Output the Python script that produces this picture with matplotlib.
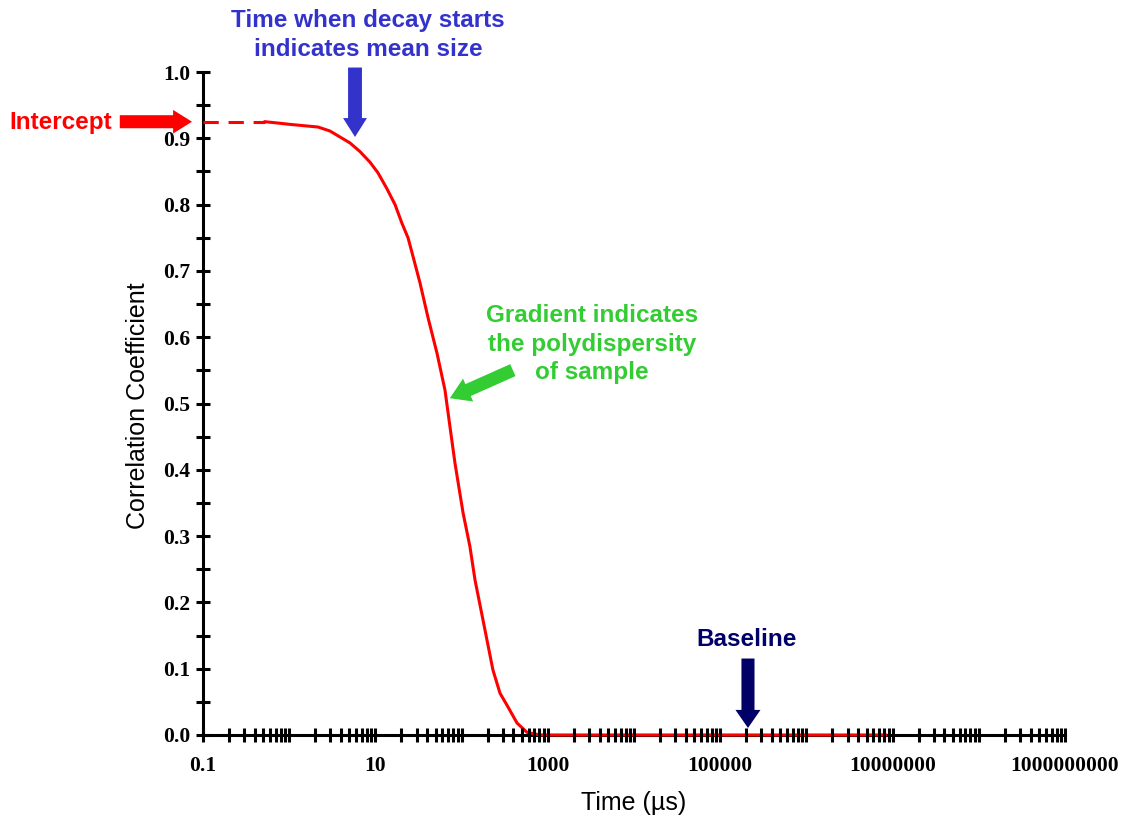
import numpy as np
import matplotlib
matplotlib.use("Agg")
import matplotlib.pyplot as plt
from matplotlib.ticker import FixedLocator, FixedFormatter, LogLocator, MultipleLocator, NullFormatter

# correlogram
intercept_t = [0.1, 0.524]
intercept_val = [0.925, 0.925]

time_us = [0.524, 0.741, 1.02, 1.485, 2.16, 2.97, 3.88, 5.07, 6.62, 8.65, 10.7, 13.6,
           16.9, 20.3, 23.9, 27.3, 32.9, 40.7, 51.8, 64.2, 73.3, 83.8, 104, 125,
           143, 187, 231, 279, 336, 440, 574, 813, 8.3e6]
corr = [0.925, 0.923, 0.921, 0.919, 0.917, 0.911, 0.902, 0.893, 0.880, 0.864, 0.848, 0.824,
        0.800, 0.772, 0.750, 0.722, 0.682, 0.630, 0.576, 0.520, 0.465, 0.410, 0.335, 0.284,
        0.234, 0.158, 0.098, 0.063, 0.045, 0.018, 0.004, 0.0, 0.0]

decades = [10.0 ** k for k in range(-1, 10)]
decade_labels = ["0.1", "", "10", "", "1000", "", "100000", "", "10000000", "", "1000000000"]
y_ticks = [i / 10 for i in range(11)]

RED = "#FF0000"
BLUE = "#3333CC"
GREEN = "#33CC33"
NAVY = "#000066"

fig = plt.figure(figsize=(11.35, 8.19), dpi=100)
ax = fig.add_axes([203 / 1135, 1 - 735 / 819, 862 / 1135, 663 / 819])

ax.plot(intercept_t, intercept_val, color=RED, lw=2.2, ls=(0, (5, 3.2)), clip_on=False, zorder=2.4)
ax.plot(time_us, corr, color=RED, lw=2.2, clip_on=False, zorder=2.4, solid_joinstyle="round")

ax.set_xscale("log")
ax.set_xlim(0.1, 1e9)
ax.set_ylim(0, 1.0)

ax.xaxis.set_major_locator(FixedLocator(decades))
ax.xaxis.set_major_formatter(FixedFormatter(decade_labels))
ax.xaxis.set_minor_locator(LogLocator(base=10, subs=np.arange(2, 10), numticks=20))
ax.xaxis.set_minor_formatter(NullFormatter())
ax.yaxis.set_major_locator(FixedLocator(y_ticks))
ax.yaxis.set_major_formatter(FixedFormatter(["%.1f" % v for v in y_ticks]))
ax.yaxis.set_minor_locator(MultipleLocator(0.05))

for s in ["top", "right"]:
    ax.spines[s].set_visible(False)
for s in ["left", "bottom"]:
    ax.spines[s].set_linewidth(2.2)
    ax.spines[s].set_zorder(2)
ax.xaxis.set_zorder(3)
ax.yaxis.set_zorder(3)

ax.tick_params(which="both", direction="inout", length=10, width=2.2, color="black")
ax.tick_params(axis="x", which="major", pad=10)
ax.tick_params(axis="y", which="major", pad=4)
for lab in ax.get_xticklabels() + ax.get_yticklabels():
    lab.set_fontfamily("Liberation Serif")
    lab.set_fontweight("bold")
    lab.set_fontsize(15.5)

ax.set_xlabel("Time (µs)", fontsize=18, family="Liberation Sans", va="center")
ax.set_ylabel("Correlation Coefficient", fontsize=18, family="Liberation Sans", va="center")
ax.xaxis.set_label_coords(0.5, -0.103)
ax.yaxis.set_label_coords(-0.0754, 0.496)

ms = 20
def arrow(xy, offset, color, xycoords="data", tw=0.47, hw=0.85, hl=0.68):
    ax.annotate("", xy=xy, xycoords=xycoords, xytext=offset, textcoords="offset points",
                annotation_clip=False,
                arrowprops=dict(arrowstyle="simple,head_length=%g,head_width=%g,tail_width=%g" % (hl, hw, tw),
                                color=color, shrinkA=0, shrinkB=0, mutation_scale=ms, lw=0))

# annotations
arrow((-11 / 862, 0.925), (-52, 0), RED, xycoords=("axes fraction", "data"))
arrow((5.8, 0.902), (0, 50), BLUE, tw=0.5, hw=0.86)
arrow((73, 0.508), (45.4, 20.2), GREEN, tw=0.47, hw=0.9, hl=0.72)
arrow((2.1e5, 0.0106), (0, 50), NAVY, tw=0.47, hw=0.9, hl=0.65)

txt = dict(fontsize=17.5, fontweight="bold", family="Liberation Sans")
fig.text(112 / 1135, 1 - 122 / 819, "Intercept", color=RED, ha="right", va="center", **txt)
fig.text(368 / 1135, 1 - 35 / 819, "Time when decay starts\nindicates mean size", color=BLUE,
         ha="center", va="center", linespacing=1.3, **txt)
fig.text(592 / 1135, 1 - 344 / 819, "Gradient indicates\nthe polydispersity\nof sample", color=GREEN,
         ha="center", va="center", linespacing=1.3, **txt)
fig.text(747 / 1135, 1 - 640 / 819, "Baseline", color=NAVY, ha="center", va="center", **txt)

fig.savefig("out.png", dpi=100)
